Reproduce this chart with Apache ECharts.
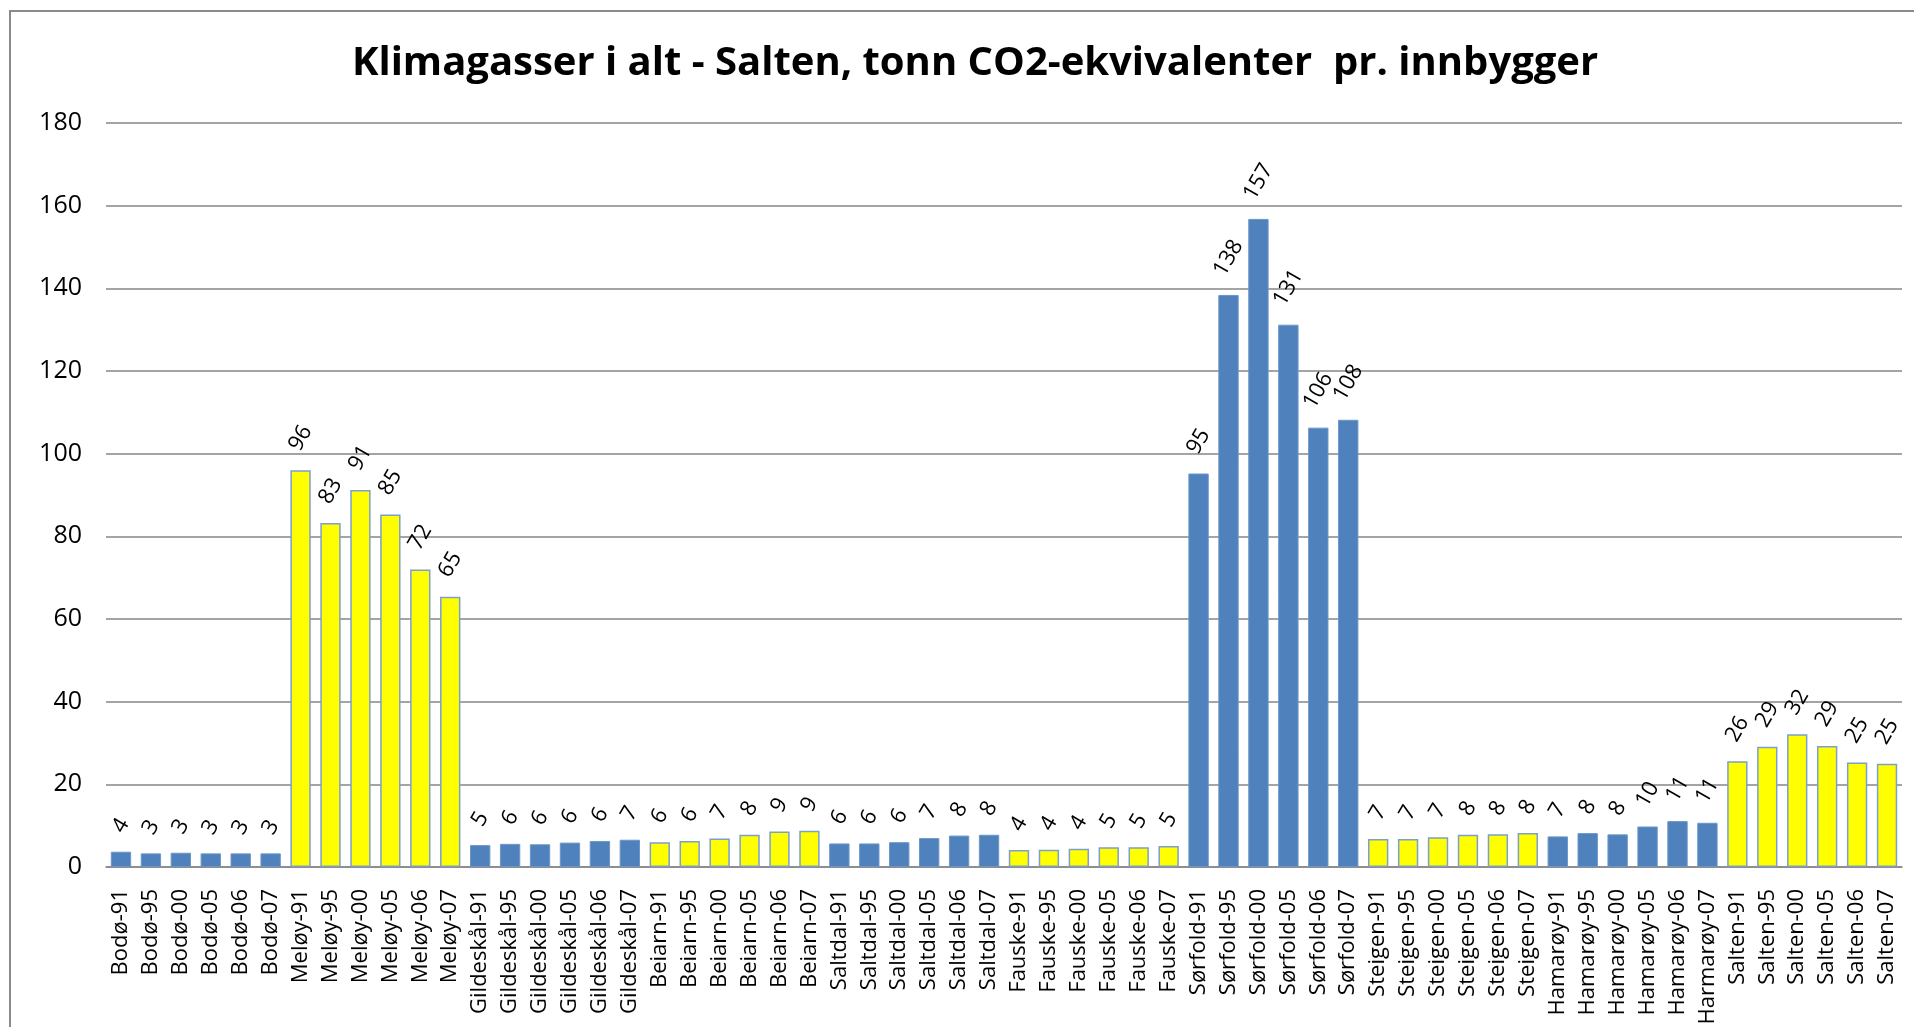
<!DOCTYPE html>
<html>
<head>
<meta charset="utf-8">
<title>Klimagasser i alt - Salten</title>
<script src="https://cdn.jsdelivr.net/npm/echarts@6/dist/echarts.min.js"></script>
<style>
  html, body { margin: 0; padding: 0; background: #fff; }
  #chart { width: 1914px; height: 1027px; }
</style>
</head>
<body>
<div id="chart"></div>
<script>
// kategorier (kommune-år)
var categories = [
  "Bodø-91", "Bodø-95", "Bodø-00", "Bodø-05", "Bodø-06", "Bodø-07",
  "Meløy-91", "Meløy-95", "Meløy-00", "Meløy-05", "Meløy-06", "Meløy-07",
  "Gildeskål-91", "Gildeskål-95", "Gildeskål-00", "Gildeskål-05", "Gildeskål-06", "Gildeskål-07",
  "Beiarn-91", "Beiarn-95", "Beiarn-00", "Beiarn-05", "Beiarn-06", "Beiarn-07",
  "Saltdal-91", "Saltdal-95", "Saltdal-00", "Saltdal-05", "Saltdal-06", "Saltdal-07",
  "Fauske-91", "Fauske-95", "Fauske-00", "Fauske-05", "Fauske-06", "Fauske-07",
  "Sørfold-91", "Sørfold-95", "Sørfold-00", "Sørfold-05", "Sørfold-06", "Sørfold-07",
  "Steigen-91", "Steigen-95", "Steigen-00", "Steigen-05", "Steigen-06", "Steigen-07",
  "Hamarøy-91", "Hamarøy-95", "Hamarøy-00", "Hamarøy-05", "Hamarøy-06", "Harmarøy-07",
  "Salten-91", "Salten-95", "Salten-00", "Salten-05", "Salten-06", "Salten-07"
];

// tonn CO2-ekvivalenter pr. innbygger, per kommune (91, 95, 00, 05, 06, 07)
var bodo      = [3.7, 3.3, 3.45, 3.3, 3.3, 3.3];
var meloy     = [96.0, 83.2, 91.2, 85.3, 72.0, 65.4];
var gildeskal = [5.3, 5.6, 5.5, 5.9, 6.3, 6.6];
var beiarn    = [6.0, 6.3, 6.9, 7.8, 8.6, 8.8];
var saltdal   = [5.7, 5.7, 6.0, 7.0, 7.6, 7.8];
var fauske    = [4.1, 4.2, 4.4, 4.8, 4.8, 5.1];
var sorfold   = [95.2, 138.4, 156.8, 131.2, 106.3, 108.2];
var steigen   = [6.8, 6.8, 7.2, 7.8, 7.9, 8.2];
var hamaroy   = [7.4, 8.2, 7.9, 9.8, 11.1, 10.7];
var salten    = [25.6, 29.1, 32.1, 29.3, 25.3, 25.0];

var yTicks = { min: 0, max: 180, interval: 20 };

var groups = [bodo, meloy, gildeskal, beiarn, saltdal, fauske, sorfold, steigen, hamaroy, salten];

// avstand fra søyletopp til midten av den skrå etiketten
var labelDist = { 1: 26, 2: 32, 3: 37 };

var seriesData = [];
groups.forEach(function (arr, g) {
  arr.forEach(function (v) {
    var txt = String(Math.round(v));
    var yellow = g % 2 === 1;
    seriesData.push({
      value: v,
      itemStyle: yellow
        ? { color: "#ffff00", borderColor: "#7b9fcf", borderWidth: 1.5 }
        : { color: "#4f81bd", borderColor: "#6d96c8", borderWidth: 1 },
      label: { distance: labelDist[txt.length] }
    });
  });
});

var myChart = echarts.init(document.getElementById("chart"));

var font = "'Open Sans', 'Noto Sans', sans-serif";

var option = {
  animation: false,
  textStyle: { fontFamily: font },
  title: {
    text: "Klimagasser i alt - Salten, tonn CO2-ekvivalenter  pr. innbygger",
    left: 970,
    top: 39,
    textAlign: "center",
    textStyle: {
      fontFamily: font,
      fontSize: 40,
      fontWeight: "bold",
      color: "#000"
    }
  },
  graphic: [
    {
      type: "rect",
      shape: { x: 10, y: 11, width: 2000, height: 1100 },
      style: { fill: "none", stroke: "#8a8a8a", lineWidth: 2 },
      silent: true
    }
  ],
  grid: {
    left: 106,
    right: 12,
    top: 123,
    bottom: 160,
    containLabel: false,
    outerBoundsMode: "none"
  },
  xAxis: {
    type: "category",
    data: categories,
    axisTick: { show: false },
    axisLine: { lineStyle: { color: "#868686", width: 1.5 } },
    axisLabel: {
      interval: 0,
      rotate: 90,
      margin: 22,
      fontSize: 22,
      fontFamily: font,
      color: "#000"
    }
  },
  yAxis: {
    type: "value",
    min: yTicks.min,
    max: yTicks.max,
    interval: yTicks.interval,
    axisLine: { show: false },
    axisTick: { show: false },
    axisLabel: { fontSize: 25, fontFamily: font, color: "#000", margin: 24 },
    splitLine: { lineStyle: { color: "#868686", width: 1.5 } }
  },
  series: [
    {
      type: "bar",
      data: seriesData,
      barCategoryGap: "32%",
      label: {
        show: true,
        position: "top",
        rotate: 60,
        align: "center",
        verticalAlign: "middle",
        fontSize: 22,
        fontFamily: font,
        color: "#000",
        formatter: function (p) {
          return Math.round(p.value);
        }
      }
    }
  ]
};

myChart.setOption(option);
</script>
</body>
</html>
